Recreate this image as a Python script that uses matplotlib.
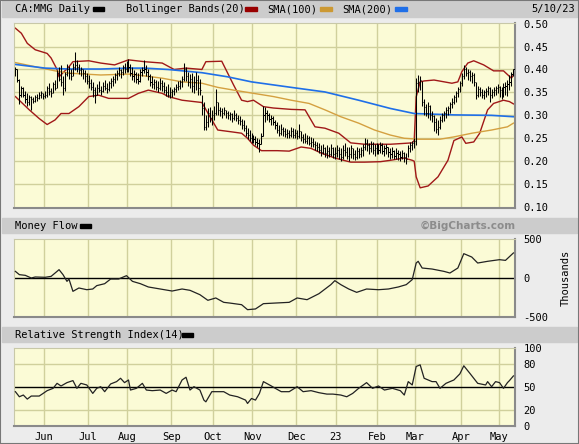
import numpy as np
import matplotlib
matplotlib.use("Agg")
import matplotlib.pyplot as plt
from matplotlib.patches import Rectangle

plt.rcParams['font.family'] = ['DejaVu Sans Mono']
plt.rcParams['font.size'] = 7

# trading days per month: May(10-31) Jun .. Apr, May(1-10)
month_days = [15, 22, 20, 22, 21, 20, 22, 20, 21, 19, 23, 19, 8]
month_labels = ['Jun', 'Jul', 'Aug', 'Sep', 'Oct', 'Nov', 'Dec', '23', 'Feb', 'Mar', 'Apr', 'May']

# daily bars, price in thousandths of a dollar
hi = [405,402,380,365,362,352,348,345,342,340,345,346,350,352,348,
      352,365,370,360,372,378,398,405,410,385,395,412,408,400,415,438,420,412,405,402,398,392,
      388,380,372,362,368,375,365,372,378,370,375,382,385,392,398,405,402,410,415,418,
      422,412,405,398,395,392,400,405,420,410,402,390,385,380,378,375,382,378,372,365,368,362,
      358,362,368,375,378,385,415,405,395,390,392,385,395,388,380,345,330,300,315,318,312,
      320,358,330,318,315,318,312,310,308,305,312,305,300,298,292,290,280,272,268,262,
      258,255,250,248,262,320,318,312,305,300,298,290,285,278,282,275,272,270,268,275,272,270,
      268,282,265,260,262,258,255,252,250,245,242,240,235,238,232,235,230,238,232,230,
      235,232,228,235,240,232,230,235,228,225,230,228,232,238,250,248,240,245,242,238,240,
      238,242,240,235,238,232,228,230,225,228,225,222,225,220,218,235,242,245,250,
      382,388,385,375,335,325,330,322,310,300,295,290,298,305,310,318,320,330,338,345,352,362,375,
      392,410,405,400,398,395,392,372,365,362,358,355,360,365,362,358,362,365,368,
      365,362,370,372,378,388,395,402]
lo = [385,372,325,340,340,328,320,322,312,328,330,332,335,338,335,
      338,340,345,340,348,355,360,375,365,345,352,385,380,378,385,398,395,390,385,380,372,368,
      360,355,340,328,345,350,345,350,355,348,352,360,365,370,378,385,382,388,392,395,
      395,385,378,372,370,368,372,385,392,385,378,365,360,358,355,350,355,352,348,342,340,338,
      340,345,350,355,358,362,375,375,365,360,350,348,355,345,345,300,268,268,275,285,280,
      290,300,300,298,295,300,295,292,290,285,290,288,282,278,270,265,255,248,245,240,
      240,235,232,220,238,255,285,290,285,280,278,270,262,255,258,255,252,250,250,252,250,250,
      248,250,245,240,240,238,235,232,230,225,222,218,212,215,210,208,210,212,208,205,
      210,205,200,205,212,205,200,208,205,202,205,208,210,212,225,222,215,220,215,212,215,
      215,218,215,212,215,210,205,208,205,205,202,200,205,198,195,210,220,225,228,
      235,350,355,320,300,298,295,290,285,265,262,258,270,285,288,295,300,305,315,325,330,340,350,
      365,380,385,378,375,370,365,335,340,342,338,335,340,345,330,338,342,345,348,
      340,335,340,345,342,355,365,385]
cl = [400,378,345,360,345,335,330,340,335,332,340,338,345,348,342,
      345,360,352,348,368,360,392,380,372,360,390,400,392,385,405,410,405,398,400,392,385,375,
      370,362,355,345,360,355,352,365,360,358,370,375,380,388,392,398,395,405,400,412,
      405,392,385,390,380,375,395,398,400,395,385,372,368,372,362,360,370,365,355,350,345,350,
      352,358,362,365,372,380,400,385,372,380,365,372,378,360,355,315,275,285,305,295,300,
      305,330,312,310,305,312,305,300,302,295,300,295,290,288,280,272,262,258,250,250,
      248,242,240,238,255,300,305,300,292,295,285,280,268,262,270,265,260,262,258,265,258,262,
      255,265,252,248,245,250,240,242,238,235,230,225,220,228,218,222,215,228,215,218,
      225,215,210,225,220,212,215,228,215,210,222,215,225,230,240,235,228,238,225,228,232,
      225,235,222,228,230,220,215,222,212,218,215,210,218,210,205,228,235,240,245,
      370,372,378,330,318,305,320,300,298,285,270,275,290,300,305,312,315,325,330,340,348,358,370,
      385,402,392,395,385,388,372,345,358,350,345,350,352,360,345,350,355,360,362,
      355,350,362,365,368,372,390,400]

# Bollinger bands (20), x = trading day
upper_x = [0, 3, 6, 10, 16, 18, 21, 22, 27, 29, 37, 43, 50, 57, 65, 74, 80, 86, 94, 96,
           104, 107, 110, 114, 117, 120, 125, 130, 139, 146, 151, 156, 163, 169, 176, 189,
           200, 201, 202, 204, 206, 211, 220, 223, 225, 228, 231, 236, 241, 246, 250, 251]
upper_y = [0.490, 0.479, 0.457, 0.443, 0.435, 0.425, 0.400, 0.384, 0.406, 0.417,
           0.419, 0.414, 0.410, 0.421, 0.417, 0.414, 0.400, 0.403, 0.400, 0.417,
           0.418, 0.392, 0.366, 0.333, 0.330, 0.333, 0.319, 0.316, 0.313, 0.312,
           0.275, 0.272, 0.261, 0.240, 0.237, 0.237, 0.240, 0.245, 0.340, 0.373,
           0.375, 0.377, 0.370, 0.373, 0.395, 0.414, 0.419, 0.410, 0.397, 0.397,
           0.381, 0.388]
lower_x = [0, 7, 12, 16, 20, 23, 27, 32, 37, 42, 47, 57, 62, 67, 74, 77, 84, 90, 94, 97,
           102, 109, 114, 117, 120, 124, 132, 138, 144, 149, 154, 161, 169, 176, 184, 189,
           196, 200, 201, 202, 204, 208, 213, 218, 221, 225, 227, 231, 234, 238, 241, 246,
           249, 251]
lower_y = [0.341, 0.312, 0.293, 0.280, 0.290, 0.304, 0.304, 0.319, 0.341, 0.344,
           0.337, 0.337, 0.348, 0.355, 0.348, 0.341, 0.333, 0.330, 0.328, 0.305,
           0.268, 0.264, 0.261, 0.250, 0.235, 0.223, 0.223, 0.222, 0.231, 0.228,
           0.218, 0.207, 0.198, 0.198, 0.199, 0.202, 0.207, 0.202, 0.200, 0.166,
           0.142, 0.146, 0.166, 0.202, 0.245, 0.253, 0.239, 0.242, 0.261, 0.312,
           0.326, 0.333, 0.330, 0.325]
sma100_x = [0, 10, 20, 27, 43, 57, 65, 74, 84, 94, 102, 110, 120, 130, 139, 148, 156,
            164, 173, 181, 189, 196, 203, 214, 221, 230, 240, 248, 251]
sma100_y = [0.415, 0.406, 0.397, 0.392, 0.388, 0.390, 0.386, 0.381, 0.373, 0.370,
            0.361, 0.355, 0.348, 0.341, 0.333, 0.326, 0.312, 0.297, 0.283, 0.268,
            0.257, 0.250, 0.248, 0.248, 0.253, 0.261, 0.268, 0.275, 0.283]
sma200_x = [0, 15, 27, 43, 57, 65, 77, 94, 107, 119, 139, 156, 173, 189, 201, 221, 240, 251]
sma200_y = [0.411, 0.403, 0.401, 0.401, 0.403, 0.403, 0.400, 0.393, 0.384, 0.373,
            0.361, 0.351, 0.333, 0.315, 0.304, 0.301, 0.300, 0.297]

# Money flow (thousands)
mf_x = [0, 2, 5, 8, 10, 15, 18, 21, 22, 24, 26, 27, 29, 32, 36, 39, 41, 45, 48, 52,
        56, 59, 63, 67, 73, 79, 84, 88, 93, 97, 101, 105, 108, 114, 117, 121, 125, 131,
        138, 142, 147, 153, 159, 161, 164, 168, 172, 177, 183, 188, 193, 197, 200, 202,
        203, 205, 210, 216, 219, 223, 226, 230, 233, 238, 244, 247, 251]
mf_y = [85, 43, 34, 0, 13, 9, 21, 85, 107, 43, -43, -13, -171, -128, -150, -141, -98,
        -73, -13, -13, 30, -43, -73, -115, -141, -167, -141, -158, -214, -286, -256,
        -312, -321, -342, -406, -397, -329, -321, -312, -256, -278, -201, -85, -34, -85,
        -141, -184, -141, -150, -141, -115, -85, -21, 192, 214, 128, 115, 85, 64, 128,
        312, 269, 192, 214, 235, 226, 321]

# RSI(14)
rsi_x = [0, 2, 4, 6, 8, 12, 14, 16, 19, 21, 23, 26, 29, 31, 33, 36, 39, 41, 43, 45,
         48, 51, 53, 55, 57, 58, 61, 64, 66, 69, 73, 76, 79, 81, 84, 86, 88, 90, 93, 95,
         96, 99, 105, 108, 112, 116, 117, 119, 121, 123, 125, 129, 131, 134, 138, 142,
         145, 149, 153, 157, 160, 164, 167, 170, 173, 177, 180, 183, 186, 190, 194, 196,
         198, 200, 202, 204, 206, 210, 212, 214, 217, 221, 224, 226, 229, 233, 237, 238,
         240, 242, 244, 246, 248, 249, 251]
rsi_y = [44, 37.5, 39.7, 34.5, 38.4, 38.4, 41.8, 45.3, 48.3, 54.7, 51.3, 55.6, 58.2,
         48.3, 54.7, 52.6, 41.8, 48.3, 50.4, 44, 53.9, 56.9, 61.2, 55.6, 59, 46.1, 48.3,
         54.7, 46.1, 45.3, 46.1, 41.8, 46.1, 44, 59, 62.5, 46.1, 50.4, 46.1, 33.2, 31, 44,
         44, 39.7, 37.5, 33.2, 28.9, 35.3, 33.2, 41.8, 56.9, 51.3, 48.3, 44, 44, 50.4, 44,
         45.3, 42.7, 40.9, 40.9, 39.7, 37.5, 41.8, 48.3, 55.6, 48.3, 51.3, 46.1, 48.3,
         45.3, 39.7, 56.9, 52.6, 76.3, 78.4, 61.2, 56.9, 56.9, 48.3, 54.7, 59, 66.8, 77.2,
         67.7, 54.7, 52.6, 56.9, 50.4, 56.9, 55.6, 48.3, 55.6, 58.2, 64.2]

W, H = 579, 444
def fx(p):
    return p / W
def fy(p):
    return 1 - p / H

bg = '#ececec'
plot_bg = '#fbfbd6'
grid_c = '#d0d09c'
band_c = '#a01818'
sma100_c = '#d4a040'
sma200_c = '#1f6fe8'

fig = plt.figure(figsize=(W / 100, H / 100), dpi=100, facecolor=bg)

# header strips
for top, bot in [(1, 17), (218, 233), (327, 342)]:
    fig.patches.append(Rectangle((fx(2), fy(bot)), fx(575), (bot - top) / H,
                                 transform=fig.transFigure, color='#cccccc', zorder=0))
fig.patches.append(Rectangle((0, 0), 1, 1, transform=fig.transFigure, fill=False,
                             edgecolor='#777777', lw=1.5, zorder=0))

days = np.arange(len(cl))
starts = np.cumsum(month_days)[:-1]
grid_x = starts - 0.5

ax1 = fig.add_axes([fx(14), fy(208), fx(501), 185.3 / H])
ax2 = fig.add_axes([fx(14), fy(317), fx(501), 78 / H])
ax3 = fig.add_axes([fx(14), fy(426), fx(501), 78 / H])

for ax in (ax1, ax2, ax3):
    ax.set_facecolor(plot_bg)
    ax.set_xlim(-0.7, 251.8)
    ax.set_xticks(grid_x)
    ax.set_xticklabels([])
    ax.yaxis.tick_right()
    ax.tick_params(length=0, pad=6, labelsize=7.5)
    for v in grid_x:
        ax.axvline(v, color=grid_c, lw=1, zorder=0)
    ax.spines['top'].set_color('#c8c8a8')
    ax.spines['left'].set_color('#c8c8a8')
    ax.spines['bottom'].set_color('#8a8a8a')
    ax.spines['right'].set_color('#8a8a8a')
    ax.spines['bottom'].set_linewidth(1.5)
    ax.spines['right'].set_linewidth(1.5)

# price panel
ax1.set_ylim(0.098, 0.502)
price_ticks = [0.10, 0.15, 0.20, 0.25, 0.30, 0.35, 0.40, 0.45, 0.50]
ax1.set_yticks(price_ticks)
ax1.set_yticklabels(['%.2f' % t for t in price_ticks])
for t in price_ticks[1:-1]:
    ax1.axhline(t, color=grid_c, lw=1, zorder=0)
ax1.plot(upper_x, upper_y, color=band_c, lw=1.0, zorder=2)
ax1.plot(lower_x, lower_y, color=band_c, lw=1.0, zorder=2)
ax1.plot(sma100_x, sma100_y, color=sma100_c, lw=1.0, zorder=2)
ax1.plot(sma200_x, sma200_y, color=sma200_c, lw=1.2, zorder=2)
hi_p = np.array(hi) / 1000
lo_p = np.array(lo) / 1000
cl_p = np.array(cl) / 1000
ax1.vlines(days, lo_p, hi_p, color='black', lw=0.75, zorder=3)
ax1.hlines(cl_p, days, days + 0.6, color='black', lw=0.75, zorder=3)

# money flow panel
ax2.set_ylim(-500, 500)
ax2.set_yticks([-500, 0, 500])
ax2.set_yticklabels(['-500', '0', '500'])
ax2.axhline(0, color='black', lw=1.0, zorder=2)
ax2.plot(mf_x, mf_y, color='#222222', lw=0.9, zorder=3)

# rsi panel
ax3.set_ylim(0, 100)
ax3.set_yticks([0, 20, 50, 80, 100])
ax3.set_yticklabels(['0', '20', '50', '80', '100'])
for t in (20, 80):
    ax3.axhline(t, color=grid_c, lw=1, zorder=0)
ax3.axhline(50, color='black', lw=1.0, zorder=2)
ax3.plot(rsi_x, rsi_y, color='#222222', lw=0.9, zorder=3)
ax3.set_xticklabels(month_labels)
ax3.tick_params(axis='x', pad=4)

# header texts and legend swatches
fig.text(fx(15), fy(9), 'CA:MMG Daily', va='center', ha='left', fontsize=7.5)
fig.patches.append(Rectangle((fx(93), fy(11.5)), fx(11), 4 / H, transform=fig.transFigure,
                             color='black'))
fig.text(fx(126), fy(9), 'Bollinger Bands(20)', va='center', ha='left', fontsize=7.5)
fig.patches.append(Rectangle((fx(245), fy(11.5)), fx(12), 4 / H, transform=fig.transFigure,
                             color='#990000'))
fig.text(fx(267), fy(9), 'SMA(100)', va='center', ha='left', fontsize=7.5)
fig.patches.append(Rectangle((fx(320), fy(11.5)), fx(12), 4 / H, transform=fig.transFigure,
                             color='#cc9933'))
fig.text(fx(342), fy(9), 'SMA(200)', va='center', ha='left', fontsize=7.5)
fig.patches.append(Rectangle((fx(395), fy(11.5)), fx(12), 4 / H, transform=fig.transFigure,
                             color='#1f6fe8'))
fig.text(fx(575), fy(9), '5/10/23', va='center', ha='right', fontsize=7.5)

fig.text(fx(15), fy(226), 'Money Flow', va='center', ha='left', fontsize=7.5)
fig.patches.append(Rectangle((fx(80), fy(228)), fx(11), 4 / H, transform=fig.transFigure,
                             color='black'))
fig.text(fx(516), fy(226), '\u00a9BigCharts.com', va='center', ha='right', fontsize=7.5,
         family='DejaVu Sans', weight='bold', color='#8c8c8c')
fig.text(fx(566), fy(278), 'Thousands', rotation=90, va='center', ha='center', fontsize=7.5)

fig.text(fx(15), fy(335), 'Relative Strength Index(14)', va='center', ha='left', fontsize=7.5)
fig.patches.append(Rectangle((fx(182), fy(337)), fx(11), 4 / H, transform=fig.transFigure,
                             color='black'))

fig.savefig('out.png', dpi=100, facecolor=bg)
